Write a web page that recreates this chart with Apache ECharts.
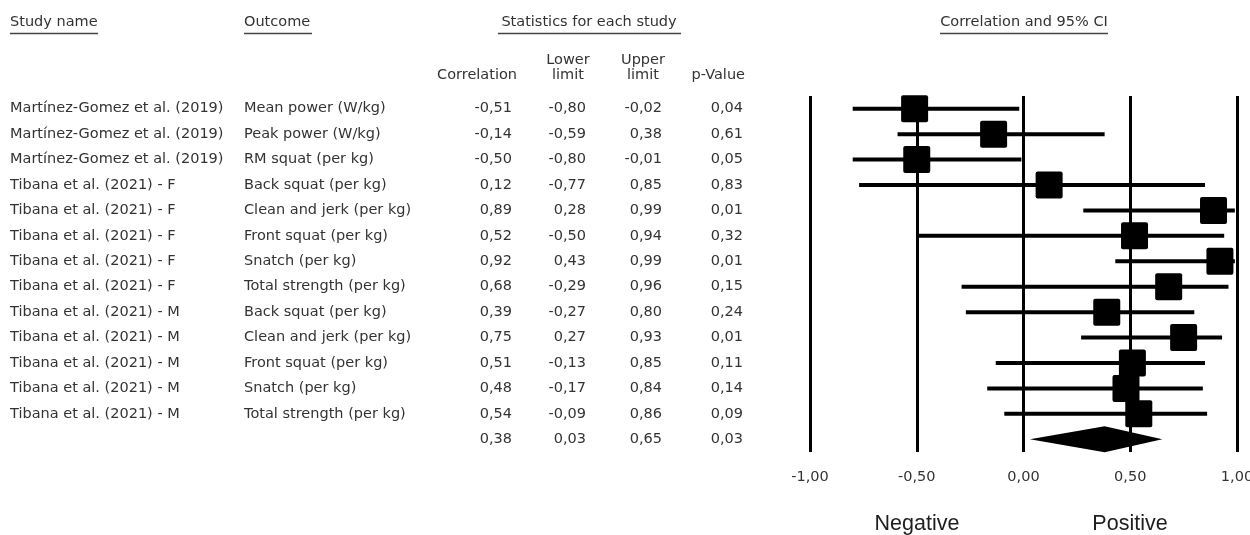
<!DOCTYPE html>
<html>
<head>
<meta charset="utf-8">
<title>Forest plot – correlation and 95% CI</title>
<script src="https://cdn.jsdelivr.net/npm/echarts@6/dist/echarts.min.js"></script>
<style>
  html, body { margin: 0; padding: 0; background: #fff; }
  #chart { width: 1250px; height: 535px; }
</style>
</head>
<body>
<div id="chart"></div>
<script>
// Individual studies
const studies = [
  'Martínez-Gomez et al. (2019)',
  'Martínez-Gomez et al. (2019)',
  'Martínez-Gomez et al. (2019)',
  'Tibana et al. (2021) - F',
  'Tibana et al. (2021) - F',
  'Tibana et al. (2021) - F',
  'Tibana et al. (2021) - F',
  'Tibana et al. (2021) - F',
  'Tibana et al. (2021) - M',
  'Tibana et al. (2021) - M',
  'Tibana et al. (2021) - M',
  'Tibana et al. (2021) - M',
  'Tibana et al. (2021) - M'
];
const outcomes = [
  'Mean power (W/kg)',
  'Peak power (W/kg)',
  'RM squat (per kg)',
  'Back squat (per kg)',
  'Clean and jerk (per kg)',
  'Front squat (per kg)',
  'Snatch (per kg)',
  'Total strength (per kg)',
  'Back squat (per kg)',
  'Clean and jerk (per kg)',
  'Front squat (per kg)',
  'Snatch (per kg)',
  'Total strength (per kg)'
];
const correlation = [-0.51, -0.14, -0.50, 0.12, 0.89, 0.52, 0.92, 0.68, 0.39, 0.75, 0.51, 0.48, 0.54];
const lowerLimit  = [-0.80, -0.59, -0.80, -0.77, 0.28, -0.50, 0.43, -0.29, -0.27, 0.27, -0.13, -0.17, -0.09];
const upperLimit  = [-0.02, 0.38, -0.01, 0.85, 0.99, 0.94, 0.99, 0.96, 0.80, 0.93, 0.85, 0.84, 0.86];
const pValue      = [0.04, 0.61, 0.05, 0.83, 0.01, 0.32, 0.01, 0.15, 0.24, 0.01, 0.11, 0.14, 0.09];

// Pooled estimate
const summaryCorrelation = 0.38;
const summaryLower = 0.03;
const summaryUpper = 0.65;
const summaryP = 0.03;

// Axis ticks
const xTicks = [-1, -0.5, 0, 0.5, 1];

const fmt = v => v.toFixed(2).replace('.', ',');

const FONT = '"DejaVu Sans", sans-serif';
const FS = 14.5;
const TXT = '#333333';

const nRows = studies.length + 1; // studies + pooled row
const summaryRow = studies.length;

// Table column anchors (pixels)
const COL = {
  study: 10, outcome: 244,
  corr: 512, lower: 586, upper: 662, p: 743
};

const studyData = studies.map((s, i) => [correlation[i], i, lowerLimit[i], upperLimit[i]]);
const tableData = studies.map((s, i) => [0, i]).concat([[0, summaryRow]]);

function textEl(x, y, text, align) {
  return {
    type: 'text', x: x, y: y,
    style: {
      text: text, fill: TXT, fontSize: FS, fontFamily: FONT,
      align: align, verticalAlign: 'middle'
    }
  };
}

const chart = echarts.init(document.getElementById('chart'), null, { renderer: 'canvas' });

const headerUnderline = (x1, x2) => ({
  type: 'line', shape: { x1: x1, y1: 33.5, x2: x2, y2: 33.5 },
  style: { stroke: '#444', lineWidth: 1.5 }
});
const headerText = (x, y, text, align) => ({
  type: 'text', x: x, y: y,
  style: { text: text, fill: TXT, fontSize: FS, fontFamily: FONT, align: align, verticalAlign: 'middle' }
});

chart.setOption({
  animation: false,
  backgroundColor: '#fff',
  grid: { left: 810, right: 13, top: 96, bottom: 83, containLabel: false, outerBoundsMode: 'none' },
  xAxis: {
    type: 'value', min: -1, max: 1, interval: 0.5,
    axisLine: { show: false }, axisTick: { show: false },
    splitLine: { show: true, lineStyle: { color: '#000', width: 3 } },
    axisLabel: {
      margin: 18, color: TXT, fontSize: FS, fontFamily: FONT,
      formatter: v => xTicks.includes(v) ? fmt(v) : ''
    }
  },
  yAxis: {
    type: 'value', min: -0.5, max: nRows - 0.5, inverse: true, show: false
  },
  graphic: [
    headerText(10, 22, 'Study name', 'left'),
    headerUnderline(10, 98),
    headerText(244, 22, 'Outcome', 'left'),
    headerUnderline(244, 312),
    headerText(589, 22, 'Statistics for each study', 'center'),
    headerUnderline(498, 681),
    headerText(1024, 22, 'Correlation and 95% CI', 'center'),
    headerUnderline(940, 1108),
    headerText(517, 75.5, 'Correlation', 'right'),
    headerText(568, 60.5, 'Lower', 'center'),
    headerText(568, 75.5, 'limit', 'center'),
    headerText(643, 60.5, 'Upper', 'center'),
    headerText(643, 75.5, 'limit', 'center'),
    headerText(745, 75.5, 'p-Value', 'right'),
    {
      type: 'text', x: 917, y: 524,
      style: { text: 'Negative', fill: '#1e1e1e', fontSize: 21.5, fontFamily: '"Liberation Sans", Arial, sans-serif', align: 'center', verticalAlign: 'middle' }
    },
    {
      type: 'text', x: 1130, y: 524,
      style: { text: 'Positive', fill: '#1e1e1e', fontSize: 21.5, fontFamily: '"Liberation Sans", Arial, sans-serif', align: 'center', verticalAlign: 'middle' }
    }
  ],
  series: [
    {
      // confidence intervals and point estimates
      type: 'custom', silent: true, clip: false,
      encode: { x: [0, 2, 3], y: 1 },
      data: studyData,
      renderItem: function (params, api) {
        const est = api.value(0), row = api.value(1), lo = api.value(2), hi = api.value(3);
        const a = api.coord([lo, row]);
        const b = api.coord([hi, row]);
        const c = api.coord([est, row]);
        const s = 27;
        return {
          type: 'group',
          children: [
            { type: 'line', shape: { x1: a[0], y1: a[1], x2: b[0], y2: b[1] }, style: { stroke: '#000', lineWidth: 4 } },
            { type: 'rect', shape: { x: c[0] - s / 2, y: c[1] - s / 2, width: s, height: s, r: 2 }, style: { fill: '#000' } }
          ]
        };
      }
    },
    {
      // pooled estimate diamond
      type: 'custom', silent: true, clip: false,
      encode: { x: [0, 2, 3], y: 1 },
      data: [[summaryCorrelation, summaryRow, summaryLower, summaryUpper]],
      renderItem: function (params, api) {
        const est = api.value(0), row = api.value(1), lo = api.value(2), hi = api.value(3);
        const a = api.coord([lo, row]);
        const b = api.coord([hi, row]);
        const c = api.coord([est, row]);
        const h = 13;
        return {
          type: 'polygon',
          shape: { points: [[a[0], a[1]], [c[0], c[1] - h], [b[0], b[1]], [c[0], c[1] + h]] },
          style: { fill: '#000' }
        };
      }
    },
    {
      // table of study names, outcomes and statistics
      type: 'custom', silent: true, clip: false,
      encode: { x: 0, y: 1 },
      data: tableData,
      renderItem: function (params, api) {
        const row = api.value(1);
        const y = api.coord([0, row])[1];
        if (row === summaryRow) {
          return {
            type: 'group',
            children: [
              textEl(COL.corr, y, fmt(summaryCorrelation), 'right'),
              textEl(COL.lower, y, fmt(summaryLower), 'right'),
              textEl(COL.upper, y, fmt(summaryUpper), 'right'),
              textEl(COL.p, y, fmt(summaryP), 'right')
            ]
          };
        }
        return {
          type: 'group',
          children: [
            textEl(COL.study, y, studies[row], 'left'),
            textEl(COL.outcome, y, outcomes[row], 'left'),
            textEl(COL.corr, y, fmt(correlation[row]), 'right'),
            textEl(COL.lower, y, fmt(lowerLimit[row]), 'right'),
            textEl(COL.upper, y, fmt(upperLimit[row]), 'right'),
            textEl(COL.p, y, fmt(pValue[row]), 'right')
          ]
        };
      }
    }
  ]
});
</script>
</body>
</html>
